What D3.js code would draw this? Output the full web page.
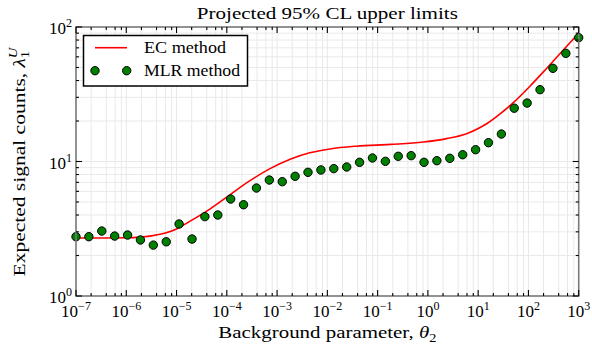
<!DOCTYPE html>
<html><head><meta charset="utf-8">
<script src="https://cdn.jsdelivr.net/npm/d3@7"></script>
<style>
html,body{margin:0;padding:0;background:#fff;}
svg text{font-family:"Liberation Serif","DejaVu Serif",serif;fill:#000;}
</style></head>
<body>
<svg id="chart" width="592" height="346"></svg>
<script>
// ---- data ----
const mlrThetaExp = [-7, -6.744, -6.487, -6.231, -5.974, -5.718, -5.462, -5.205, -4.949, -4.692,
  -4.436, -4.179, -3.923, -3.667, -3.410, -3.154, -2.897, -2.641, -2.385, -2.128,
  -1.872, -1.615, -1.359, -1.103, -0.846, -0.590, -0.333, -0.077, 0.179, 0.436,
  0.692, 0.949, 1.205, 1.462, 1.718, 1.974, 2.231, 2.487, 2.744, 3.0];
const mlrValues = [2.76, 2.76, 3.04, 2.79, 2.84, 2.61, 2.39, 2.53, 3.43, 2.65,
  3.89, 4.0, 5.26, 4.77, 6.35, 7.28, 7.08, 7.76, 8.31, 8.65,
  8.85, 9.10, 9.86, 10.62, 10.03, 10.93, 11.05, 9.86, 10.14, 10.56,
  11.23, 12.24, 13.8, 16.0, 24.9, 27.2, 34.2, 49.3, 63.7, 83.3];
const ecThetaExp = [-7, -6.5, -6, -5.5, -5, -4.73, -4.33, -3.94, -3.54, -3.14, -2.74, -2.35, -1.95,
  -1.42, -0.75, -0.09, 0.37, 0.77, 1.04, 1.17, 1.43, 1.70, 2.03, 2.36, 2.69, 3.0];
const ecValues = [2.70, 2.70, 2.71, 2.80, 3.15, 3.60, 4.45, 5.65, 7.2, 8.85, 10.4, 11.6, 12.4,
  13.0, 13.4, 13.95, 14.8, 16.1, 17.9, 19.1, 22.5, 27.4, 36.3, 49.2, 67.2, 90];
const xTickExps = [-7, -6, -5, -4, -3, -2, -1, 0, 1, 2, 3];
const yTickExps = [0, 1, 2];
const xMinorMultipliers = [2, 4, 6, 8];
const yMinorMultipliers = [2, 3, 4, 5, 6, 7, 8, 9];
const titleText = "Projected 95% CL upper limits";
const seriesNames = ["EC method", "MLR method"];

// ---- layout ----
const L = 76, R = 578.7, T = 27, B = 296;
const svg = d3.select("#chart");
const x = d3.scaleLog().domain([1e-7, 1e3]).range([L, R]);
const y = d3.scaleLog().domain([1, 100]).range([B, T]);

const pow = e => Math.pow(10, e);

// grid
const xGridVals = [], xMinorVals = [];
xTickExps.forEach((e, i) => {
  xGridVals.push(pow(e));
  if (i < xTickExps.length - 1) xMinorMultipliers.forEach(m => { xGridVals.push(m * pow(e)); xMinorVals.push(m * pow(e)); });
});
const yGridVals = [], yMinorVals = [];
yTickExps.forEach((e, i) => {
  yGridVals.push(pow(e));
  if (i < yTickExps.length - 1) yMinorMultipliers.forEach(m => { yGridVals.push(m * pow(e)); yMinorVals.push(m * pow(e)); });
});
const grid = svg.append("g").attr("stroke", "#e9e9e9").attr("stroke-width", 1);
grid.selectAll("line.gx").data(xGridVals).join("line")
  .attr("x1", d => x(d)).attr("x2", d => x(d)).attr("y1", T).attr("y2", B);
grid.selectAll("line.gy").data(yGridVals).join("line")
  .attr("y1", d => y(d)).attr("y2", d => y(d)).attr("x1", L).attr("x2", R);

// clip
svg.append("clipPath").attr("id", "clip").append("rect")
  .attr("x", L).attr("y", T).attr("width", R - L).attr("height", B - T);

// EC curve
const line = d3.line().x(d => x(pow(d[0]))).y(d => y(d[1])).curve(d3.curveMonotoneX);
svg.append("path").attr("clip-path", "url(#clip)")
  .datum(ecThetaExp.map((e, i) => [e, ecValues[i]]))
  .attr("d", line).attr("fill", "none").attr("stroke", "#ff0000").attr("stroke-width", 1.6);

// MLR points
svg.append("g").selectAll("circle").data(mlrThetaExp.map((e, i) => [e, mlrValues[i]])).join("circle")
  .attr("cx", d => x(pow(d[0]))).attr("cy", d => y(d[1])).attr("r", 4.2)
  .attr("fill", "#008000").attr("stroke", "#000").attr("stroke-width", 1);

// frame
svg.append("rect").attr("x", L).attr("y", T).attr("width", R - L).attr("height", B - T)
  .attr("fill", "none").attr("stroke", "#7a7a7a").attr("stroke-width", 1.6);

// ticks (inward, all four sides)
const tk = svg.append("g").attr("stroke", "#000").attr("stroke-width", 1.1);
const majX = xTickExps.map(pow), majY = yTickExps.map(pow);
function xt(vals, len) {
  tk.append("g").selectAll("line").data(vals).join("line")
    .attr("x1", d => x(d)).attr("x2", d => x(d)).attr("y1", B).attr("y2", B - len);
  tk.append("g").selectAll("line").data(vals).join("line")
    .attr("x1", d => x(d)).attr("x2", d => x(d)).attr("y1", T).attr("y2", T + len);
}
function yt(vals, len) {
  tk.append("g").selectAll("line").data(vals).join("line")
    .attr("y1", d => y(d)).attr("y2", d => y(d)).attr("x1", L).attr("x2", L + len);
  tk.append("g").selectAll("line").data(vals).join("line")
    .attr("y1", d => y(d)).attr("y2", d => y(d)).attr("x1", R).attr("x2", R - len);
}
xt(majX, 6); xt(xMinorVals, 3); yt(majY, 6); yt(yMinorVals, 3);

// tick labels
const fmtExp = e => (e < 0 ? "\u2212" + Math.abs(e) : String(e));
const xl = svg.append("g").selectAll("text").data(xTickExps).join("text")
  .attr("x", d => x(pow(d))).attr("y", 317).attr("text-anchor", "middle").attr("font-size", 17);
xl.append("tspan").text("10");
xl.append("tspan").attr("dy", -7).attr("font-size", 12).text(d => fmtExp(d));

const yl = svg.append("g").selectAll("text").data(yTickExps).join("text")
  .attr("x", 72).attr("y", d => y(pow(d)) + 7).attr("text-anchor", "end").attr("font-size", 17);
yl.append("tspan").text("10");
yl.append("tspan").attr("dy", -7).attr("font-size", 12).text(d => fmtExp(d));

function stretch(sel, w) {
  sel.attr("textLength", w).attr("lengthAdjust", "spacingAndGlyphs");
}

// title
const title = svg.append("text").attr("x", (L + R) / 2).attr("y", 18.5).attr("text-anchor", "middle")
  .attr("font-size", 17.5).text(titleText);
stretch(title, 261);

// x label
const xlab = svg.append("text").attr("x", (L + R) / 2).attr("y", 338).attr("text-anchor", "middle").attr("font-size", 17.5);
xlab.append("tspan").text("Background parameter, ");
xlab.append("tspan").attr("font-style", "italic").text("\u03b8");
xlab.append("tspan").attr("dy", 4).attr("font-size", 12).text("2");
stretch(xlab, 218);

// y label
const ylab = svg.append("text").attr("transform", `translate(25,162) rotate(-90)`)
  .attr("text-anchor", "middle").attr("font-size", 17.5);
ylab.append("tspan").text("Expected signal counts, ");
ylab.append("tspan").attr("font-style", "italic").text("\u03bb");
ylab.append("tspan").attr("dy", 4).attr("font-size", 12).text("1");
ylab.append("tspan").attr("dx", -6).attr("dy", -12).attr("font-size", 12).attr("font-style", "italic").text("U");
stretch(ylab, 229);

// legend
const lg = svg.append("g");
lg.append("rect").attr("x", 83.5).attr("y", 35.5).attr("width", 164).attr("height", 50.5)
  .attr("fill", "#fff").attr("stroke", "#000").attr("stroke-width", 1.5);
lg.append("line").attr("x1", 95).attr("x2", 127).attr("y1", 47.7).attr("y2", 47.7)
  .attr("stroke", "#ff0000").attr("stroke-width", 1.6);
lg.selectAll("circle").data([95, 126.7]).join("circle")
  .attr("cx", d => d).attr("cy", 70.7).attr("r", 4.2)
  .attr("fill", "#008000").attr("stroke", "#000").attr("stroke-width", 1);
const legendWidths = [82, 96];
lg.selectAll("text").data(seriesNames).join("text")
  .attr("x", 144).attr("y", (d, i) => 53.3 + i * 22.7).attr("font-size", 17.5).text(d => d)
  .each(function(d, i) { stretch(d3.select(this), legendWidths[i]); });
</script>
</body></html>
